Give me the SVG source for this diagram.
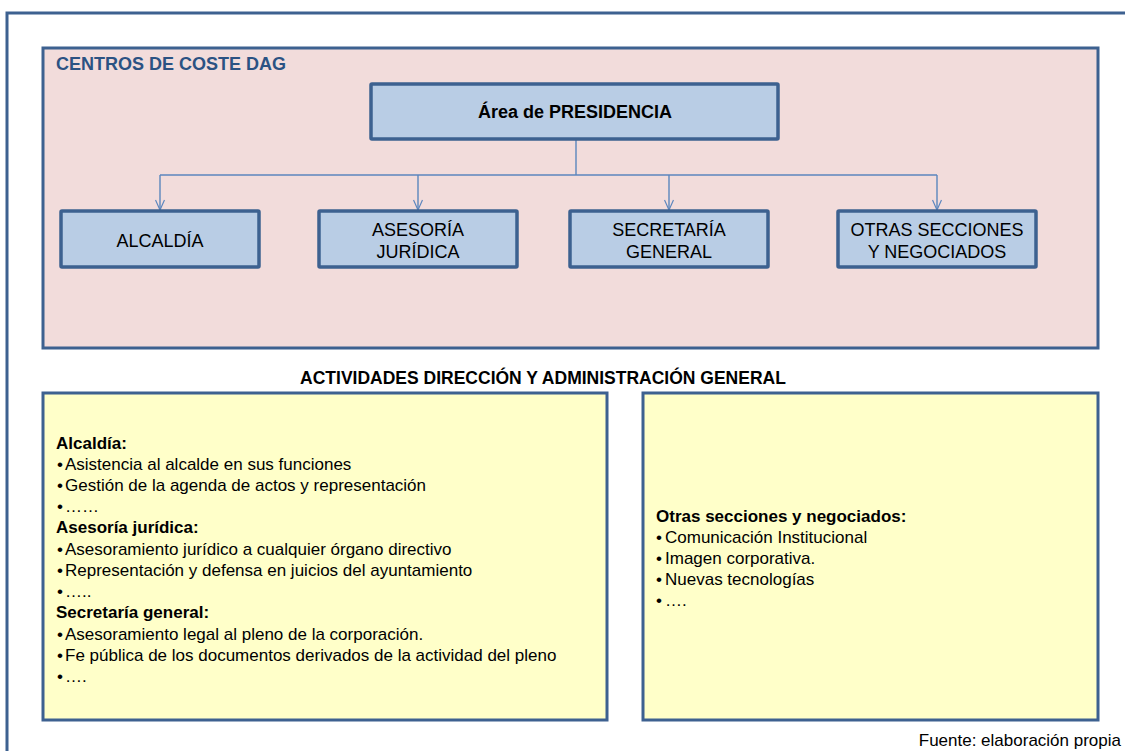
<svg xmlns="http://www.w3.org/2000/svg" width="1125" height="751" viewBox="0 0 1125 751">
<defs>
<style>
.frame{fill:none;stroke:#3d6190;stroke-width:3}
.panel{stroke:#3d6190;stroke-width:3}
.node{fill:#b9cde5;stroke:#3d6190;stroke-width:3.5}
.conn{fill:none;stroke:#5b86be;stroke-width:1.4}
.t{font-family:"Liberation Sans",Arial,sans-serif;fill:#000}
.nt{font-size:18px;text-anchor:middle}
.b{font-weight:bold}
.body{font-size:17px}
</style>
<marker id="arr" viewBox="0 0 12 10" refX="11" refY="5" markerWidth="12" markerHeight="10" markerUnits="userSpaceOnUse" orient="auto">
<path d="M1,0.5 L11,5 L1,9.5" fill="none" stroke="#5b86be" stroke-width="1.2"/>
</marker>
</defs>
<rect width="1125" height="751" fill="#ffffff"/>
<rect class="frame" x="7" y="13" width="1140" height="760"/>

<g id="centros">
<rect class="panel" x="43" y="48" width="1055" height="300" fill="#f2dcdb"/>
<text class="t b" x="56" y="70" font-size="18" style="fill:#2b5283">CENTROS DE COSTE DAG</text>
</g>

<g id="connectors">
<path class="conn" d="M576,139 V175"/>
<path class="conn" d="M160,175 H937"/>
<path class="conn" d="M160,175 V210" marker-end="url(#arr)"/>
<path class="conn" d="M418,175 V210" marker-end="url(#arr)"/>
<path class="conn" d="M669,175 V210" marker-end="url(#arr)"/>
<path class="conn" d="M937,175 V210" marker-end="url(#arr)"/>
</g>

<g id="presidencia">
<rect class="node" x="371" y="84" width="407" height="55" rx="1"/>
<text class="t nt b" x="575" y="118">Área de PRESIDENCIA</text>
</g>

<g id="alcaldia">
<rect class="node" x="61" y="211" width="198" height="56" rx="1"/>
<text class="t nt" x="160" y="247">ALCALDÍA</text>
</g>

<g id="asesoria">
<rect class="node" x="319" y="211" width="198" height="56" rx="1"/>
<text class="t nt" x="418" y="236">ASESORÍA</text>
<text class="t nt" x="418" y="258">JURÍDICA</text>
</g>

<g id="secretaria">
<rect class="node" x="570" y="211" width="198" height="56" rx="1"/>
<text class="t nt" x="669" y="236">SECRETARÍA</text>
<text class="t nt" x="669" y="258">GENERAL</text>
</g>

<g id="otras">
<rect class="node" x="838" y="211" width="198" height="56" rx="1"/>
<text class="t nt" x="937" y="236">OTRAS SECCIONES</text>
<text class="t nt" x="937" y="258">Y NEGOCIADOS</text>
</g>

<text class="t b" x="543" y="384" font-size="17.5" text-anchor="middle">ACTIVIDADES DIRECCIÓN Y ADMINISTRACIÓN GENERAL</text>

<g id="actividades-izq">
<rect class="panel" x="43" y="393" width="564" height="327" fill="#ffffc9"/>
<text class="t body">
<tspan class="b" x="56" y="449">Alcaldía:</tspan>
<tspan x="57" y="470">•</tspan><tspan x="65" y="470">Asistencia al alcalde en sus funciones</tspan>
<tspan x="57" y="491">•</tspan><tspan x="65" y="491">Gestión de la agenda de actos y representación</tspan>
<tspan x="57" y="512">•</tspan><tspan x="65" y="512">……</tspan>
<tspan class="b" x="56" y="533">Asesoría jurídica:</tspan>
<tspan x="57" y="555">•</tspan><tspan x="65" y="555">Asesoramiento jurídico a cualquier órgano directivo</tspan>
<tspan x="57" y="576">•</tspan><tspan x="65" y="576">Representación y defensa en juicios del ayuntamiento</tspan>
<tspan x="57" y="597">•</tspan><tspan x="65" y="597">…..</tspan>
<tspan class="b" x="56" y="618">Secretaría general:</tspan>
<tspan x="57" y="640">•</tspan><tspan x="65" y="640">Asesoramiento legal al pleno de la corporación.</tspan>
<tspan x="57" y="661">•</tspan><tspan x="65" y="661">Fe pública de los documentos derivados de la actividad del pleno</tspan>
<tspan x="57" y="682">•</tspan><tspan x="65" y="682">….</tspan>
</text>
</g>

<g id="actividades-der">
<rect class="panel" x="643" y="393" width="455" height="327" fill="#ffffc9"/>
<text class="t body">
<tspan class="b" x="656" y="522">Otras secciones y negociados:</tspan>
<tspan x="656" y="543">•</tspan><tspan x="665" y="543">Comunicación Institucional</tspan>
<tspan x="656" y="564">•</tspan><tspan x="665" y="564">Imagen corporativa.</tspan>
<tspan x="656" y="585">•</tspan><tspan x="665" y="585">Nuevas tecnologías</tspan>
<tspan x="656" y="606">•</tspan><tspan x="665" y="606">….</tspan>
</text>
</g>

<text class="t body" x="1121" y="746" text-anchor="end">Fuente: elaboración propia</text>
</svg>
